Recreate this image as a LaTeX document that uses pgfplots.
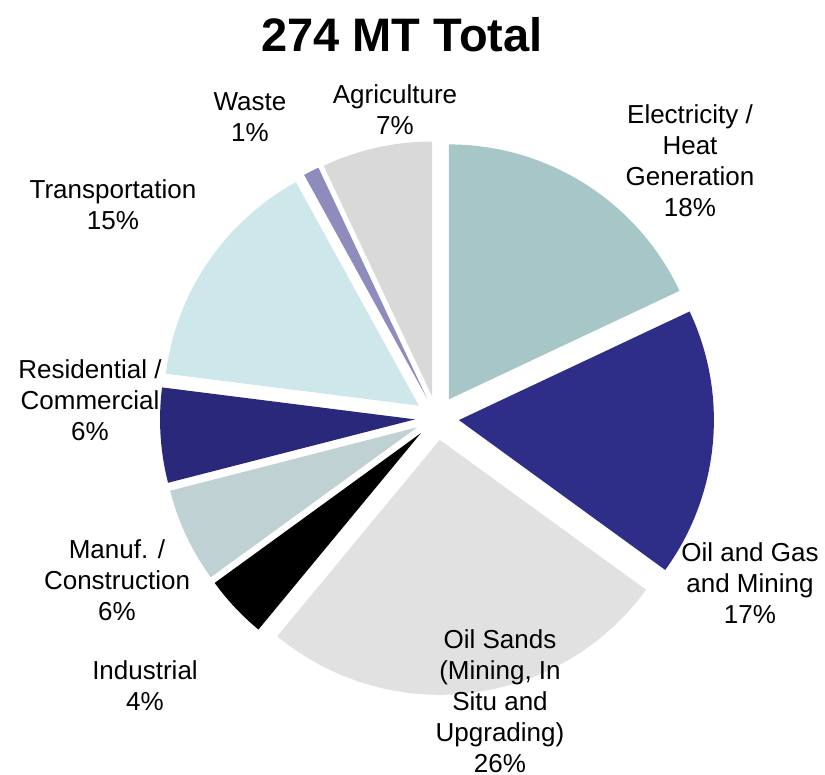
\documentclass[border=0pt]{standalone}
\usepackage{pgfplots}
\pgfplotsset{compat=1.18}
\usepackage{pgfplotstable}
\usepackage{fontspec}
\setmainfont{Liberation Sans}

\definecolor{cElec}{HTML}{A6C6C8}
\definecolor{cOilGas}{HTML}{2E2D87}
\definecolor{cSands}{HTML}{E1E1E1}
\definecolor{cInd}{HTML}{000000}
\definecolor{cManuf}{HTML}{BFD1D3}
\definecolor{cRes}{HTML}{29287A}
\definecolor{cTrans}{HTML}{CDE7EB}
\definecolor{cWaste}{HTML}{8E8CBD}
\definecolor{cAgri}{HTML}{D9D9D9}

% share of 274 MT, clockwise from 12 o'clock
\pgfplotstableread[col sep=comma]{
sector,value,color
Electricity,18,cElec
OilGas,17,cOilGas
OilSands,26,cSands
Industrial,4,cInd
Manuf,6,cManuf
Residential,6,cRes
Transportation,15,cTrans
Waste,1,cWaste
Agriculture,7,cAgri
}\piedata

\begin{document}
\begin{tikzpicture}
\begin{axis}[
  name=pie,
  scale only axis,
  width=412.5pt, height=387.5pt,
  xmin=0, xmax=825, ymin=0, ymax=775,
  hide axis,
  clip=false,
]
\addplot[draw=none] coordinates {(0,0)};
\def\astart{90}
\pgfplotstablegetrowsof{\piedata}
\pgfmathtruncatemacro\nrows{\pgfplotsretval-1}
\pgfplotsforeachungrouped \i in {0,...,\nrows}{
  \pgfplotstablegetelem{\i}{value}\of\piedata \let\v=\pgfplotsretval
  \pgfplotstablegetelem{\i}{color}\of\piedata \let\c=\pgfplotsretval
  \pgfmathsetmacro\aend{\astart-3.6*\v}
  \pgfmathsetmacro\amid{(\astart+\aend)/2}
  \pgfmathsetmacro\cx{437+22*cos(\amid)}
  \pgfmathsetmacro\cy{357+22*sin(\amid)}
  \edef\temp{\noexpand\fill[fill=\c] (axis cs:\cx,\cy) -- ++(\astart:127.5pt)
    arc[start angle=\astart, end angle=\aend, radius=127.5pt] -- cycle;}
  \temp
  \global\let\astart=\aend
}

\tikzset{lbl/.style={align=center, font=\fontsize{13}{15.5}\selectfont, inner sep=0pt}}
\node[font=\fontsize{23.5}{28}\selectfont\bfseries, inner sep=0pt] at (axis cs:402,740) {274 MT Total};
\node[lbl] at (axis cs:250,658) {Waste\\1\%};
\node[lbl] at (axis cs:395,665) {Agriculture\\7\%};
\node[lbl] at (axis cs:690,614) {Electricity /\\Heat\\Generation\\18\%};
\node[lbl] at (axis cs:113,570) {Transportation\\15\%};
\node[lbl] at (axis cs:90,375) {Residential /\\Commercial\\6\%};
\node[lbl] at (axis cs:117,195) {Manuf. /\\Construction\\6\%};
\node[lbl] at (axis cs:145,89) {Industrial\\4\%};
\node[lbl] at (axis cs:500,74) {Oil Sands\\(Mining, In\\Situ and\\Upgrading)\\26\%};
\node[lbl] at (axis cs:750,192) {Oil and Gas\\and Mining\\17\%};
\end{axis}
\pgfresetboundingbox
\useasboundingbox (pie.south west) rectangle (pie.north east);
\end{tikzpicture}
\end{document}
